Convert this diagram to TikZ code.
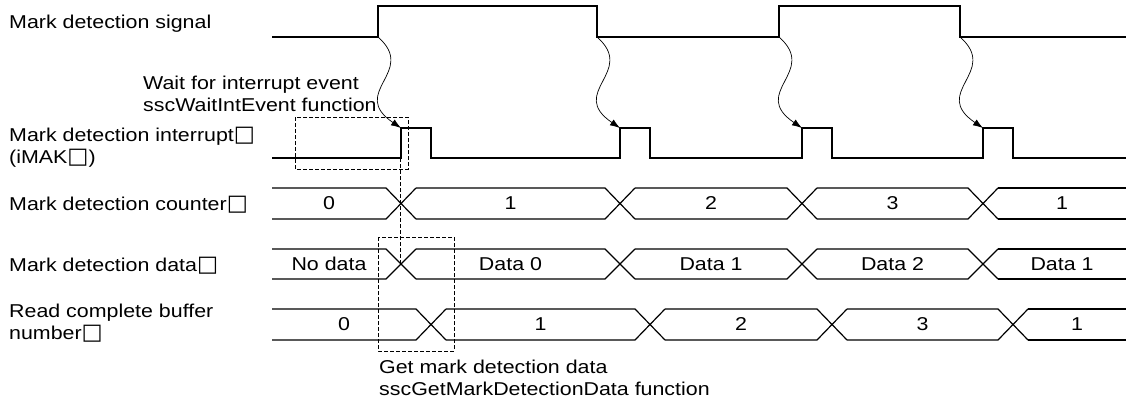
\documentclass[tikz,border=0pt]{standalone}
\usepackage{fontspec}
\setmainfont{Liberation Sans}[FakeStretch=1.15]
\newfontfamily\symfont{DejaVu Sans}[Scale=1.2]
\usetikzlibrary{arrows.meta}
\newcommand{\sq}{{\symfont\char"25A1}}
% bus row: top, bottom, crossings, last crossing
\newcommand{\busrow}[4]{%
  \foreach \c [remember=\c as \prev (initially 257)] in {#3} {
    \draw[wave] (\prev+15,#1) -- (\c-15,#1) -- (\c+15,#2)
                (\prev+15,#2) -- (\c-15,#2) -- (\c+15,#1);
  }
  \draw[wave] (#4+15,#1) -- (1126,#1) (#4+15,#2) -- (1126,#2);
}
\begin{document}
\begin{tikzpicture}[x=1pt, y=-1pt, >={Latex[length=10pt,width=7pt]},
    every node/.style={font=\fontsize{18.6}{22}\selectfont},
    wave/.style={line width=1.2pt},
    event/.style={->, line width=0.7pt},
    guide/.style={line width=0.8pt, dash pattern=on 4pt off 2pt},
    lbl/.style={anchor=base west, inner sep=0pt, align=left},
    val/.style={inner sep=0pt}]
    \useasboundingbox (0,0) rectangle (1126,407);

    % Row labels (base = last line)
    \node[lbl] (siglbl) at (9,28) {Mark detection signal};
    \node[lbl] (irqlbl) at (9,163) {Mark detection interrupt\sq\\(iMAK\sq)};
    \node[lbl] (cntlbl) at (9,210) {Mark detection counter\sq};
    \node[lbl] (datlbl) at (9,271) {Mark detection data\sq};
    \node[lbl] (buflbl) at (9,339) {Read complete buffer\\number\sq};

    % Mark detection signal
    \draw[wave] (272,37) -- (378,37) -- (378,6) -- (597,6) -- (597,37)
        -- (779,37) -- (779,6) -- (960,6) -- (960,37) -- (1126,37);
    \foreach \e [count=\i] in {378,597,779,960}
        \coordinate (edge\i) at (\e,37);

    % Mark detection interrupt
    \draw[wave] (272,158) \foreach \p in {401,620,802,983} {
        -- (\p,158) -- (\p,128) -- (\p+30,128) -- (\p+30,158)} -- (1126,158);
    \foreach \p [count=\i] in {401,620,802,983}
        \coordinate (pulse\i) at (\p,128);

    % Arrows
    \foreach \i in {1,...,4}
        \draw[event] (edge\i) .. controls +(40,35) and +(-53,-36) .. (pulse\i);

    % Counter, data, buffer
    \busrow{188}{219}{401,620,802,983}{983}
    \busrow{249}{279}{401,620,802,983}{983}
    \busrow{309}{340}{431,650,832,1013}{1013}
    \foreach \x/\v [count=\i] in {329/0,510.5/1,711/2,892.5/3,1062/1}
        \node[val] (cnt\i) at (\x,203.5) {\v};
    \foreach \x/\v [count=\i] in {329/No data,510.5/Data 0,711/Data 1,892.5/Data 2,1062/Data 1}
        \node[val] (dat\i) at (\x,264) {\v};
    \foreach \x/\v [count=\i] in {344/0,540.5/1,741/2,922.5/3,1077/1}
        \node[val] (buf\i) at (\x,324.5) {\v};

    % Annotations
    \draw[guide] (295,117) rectangle (408,169);
    \draw[guide] (400,158) -- (400,264);
    \draw[guide] (378,237) rectangle (454,351);
    \node[lbl] (waitlbl) at (143,111) {Wait for interrupt event\\sscWaitIntEvent function};
    \node[lbl] (getlbl) at (379,395) {Get mark detection data\\sscGetMarkDetectionData function};
\end{tikzpicture}
\end{document}
